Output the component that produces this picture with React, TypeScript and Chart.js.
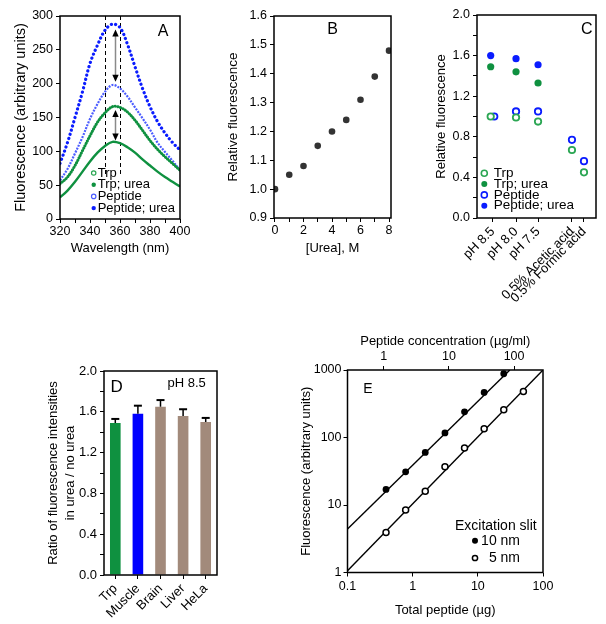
import React, { useEffect, useRef } from "react";
import { Chart, registerables } from "chart.js";

Chart.register(...registerables);

const FONT = "'Liberation Sans', Arial, Helvetica, sans-serif";
Chart.defaults.font.family = FONT;
Chart.defaults.font.size = 12;
Chart.defaults.color = "#000";

// ---------------- Panel A : emission spectra ----------------
const wavelengthNm = [320, 325, 330, 335, 340, 345, 350, 355, 360, 365, 370, 375, 380, 385, 390, 395, 400];
const trpA = [32, 42, 55, 70, 85, 98, 108, 114, 112, 106, 98, 88, 79, 70, 62, 55, 48];
const trpUreaA = [52, 62, 79, 101, 123, 143, 157, 166, 165, 158, 146, 131, 116, 103, 92, 82, 72];
const peptideA = [57, 74, 97, 121, 148, 170, 188, 198, 193, 181, 165, 149, 132, 113, 99, 86, 72];
const peptideUreaA = [82, 113, 150, 188, 230, 257, 279, 288, 283, 258, 225, 193, 166, 144, 127, 113, 102];
const aXTicks = [320, 330, 340, 350, 360, 370, 380, 390, 400];
const aXLabeled = [320, 340, 360, 380, 400];
const aYTicks = [0, 50, 100, 150, 200, 250, 300];
const aGuideNm = [350, 360];
const aGuideSpan = [65, 300];
const aArrowNm = 357;
const aArrowPeptide = [280, 203];
const aArrowTrp = [161, 116];

// ---------------- Panel B : urea titration ----------------
const ureaM = [0, 1, 2, 3, 4, 5, 6, 7, 8];
const relFluorB = [1.0, 1.05, 1.08, 1.15, 1.2, 1.24, 1.31, 1.39, 1.48];
const bXTicks = [0, 1, 2, 3, 4, 5, 6, 7, 8];
const bXLabeled = [0, 2, 4, 6, 8];
const bYTicks = [0.9, 1.0, 1.1, 1.2, 1.3, 1.4, 1.5, 1.6];

// ---------------- Panel C : conditions ----------------
const conditionsC = ["pH 8.5", "pH 8.0", "pH 7.5", "0.5% Acetic acid", "0.5% Formic acid"];
const conditionPosC = [1.32, 3.28, 5.13, 7.98, 8.99];
const xTrpC = [1.15, 3.28, 5.13, 7.98, 8.99];
const xPeptideC = [1.45, 3.28, 5.13, 7.98, 8.99];
const trpC = [1.0, 0.99, 0.95, 0.67, 0.45];
const trpUreaC = [1.49, 1.44, 1.33];
const peptideC = [1.0, 1.05, 1.05, 0.77, 0.56];
const peptideUreaC = [1.6, 1.57, 1.51];
const cYTicks = [0, 0.2, 0.4, 0.6, 0.8, 1.0, 1.2, 1.4, 1.6, 1.8, 2.0];
const cYLabeled = [0, 0.4, 0.8, 1.2, 1.6, 2.0];

// ---------------- Panel D : ratio bars ----------------
const tissuesD = ["Trp", "Muscle", "Brain", "Liver", "HeLa"];
const ratioD = [1.49, 1.58, 1.65, 1.56, 1.5];
const errD = [0.04, 0.08, 0.065, 0.065, 0.04];

// ---------------- Panel E : linearity ----------------
const eTotalUg = [0.39, 0.78, 1.56, 3.13, 6.25, 12.5, 25, 50];
const e10nm = [17, 31, 60, 117, 240, 465, 880];
const e5nm = [3.9, 8.4, 16, 37, 70, 135, 258, 480];
const eFit10X = [0.1, 31];
const eFit10Y = [4.4, 1000];
const eFit5X = [0.1, 100];
const eFit5Y = [1.06, 1000];
const sampleVolumeMl = 0.36;
const eXTicks = [0.1, 1, 10, 100];
const eTopTicks = [1, 10, 100];
const eYTicks = [1, 10, 100, 1000];

// ---------------- styles ----------------
const GREEN = "#0f9140";
const GREEN_LIGHT = "#2ba653";
const BLUE = "#0a1cff";
const BLUE_LIGHT = "#4b5cff";
const TAN = "#a28a7b";
const colorsD = [GREEN, "#0000ff", TAN, TAN, TAN];

const near = (arr: number[], v: number) => arr.some((a) => Math.abs(a - v) < 1e-6);
const setTicks = (vals: number[]) => (s: any) => {
  s.ticks = vals.map((v) => ({ value: v }));
};
const fixW = (w: number) => (s: any) => {
  s.width = w;
  s.paddingTop = 0;
  s.paddingBottom = 0;
  s.paddingLeft = 0;
  s.paddingRight = 0;
};
const fixH = (h: number) => (s: any) => {
  s.height = h;
  s.paddingLeft = 0;
  s.paddingRight = 0;
  s.paddingTop = 0;
  s.paddingBottom = 0;
};
const axisGrid = (extra: any = {}) => ({
  drawOnChartArea: false,
  drawTicks: true,
  tickLength: 4,
  color: "#000",
  lineWidth: 1,
  ...extra,
});
const titleOpt = (text: any, size = 13, extra: any = {}) => ({
  display: true,
  text,
  color: "#000",
  font: { size, family: FONT },
  padding: 0,
  ...extra,
});

const framePlugin = {
  id: "frame",
  afterDraw(chart: any) {
    const { ctx, chartArea } = chart;
    const { left, top, right, bottom } = chartArea;
    ctx.save();
    ctx.strokeStyle = "#000";
    ctx.lineWidth = 1.5;
    ctx.strokeRect(left, top, right - left, bottom - top);
    ctx.restore();
  },
};

function drawText(ctx: CanvasRenderingContext2D, s: string, x: number, y: number, size: number, align: CanvasTextAlign = "center") {
  ctx.save();
  ctx.fillStyle = "#000";
  ctx.font = `${size}px ${FONT}`;
  ctx.textAlign = align;
  ctx.textBaseline = "middle";
  ctx.fillText(s, x, y);
  ctx.restore();
}

function drawMarker(ctx: CanvasRenderingContext2D, x: number, y: number, r: number, color: string, filled: boolean, lw = 1.5) {
  ctx.save();
  ctx.beginPath();
  ctx.arc(x, y, r, 0, Math.PI * 2);
  if (filled) {
    ctx.fillStyle = color;
    ctx.fill();
  } else {
    ctx.fillStyle = "#fff";
    ctx.fill();
    ctx.lineWidth = lw;
    ctx.strokeStyle = color;
    ctx.stroke();
  }
  ctx.restore();
}

function drawDoubleArrow(ctx: CanvasRenderingContext2D, x: number, yTop: number, yBot: number) {
  ctx.save();
  ctx.strokeStyle = "#8a8a8a";
  ctx.lineWidth = 1.5;
  ctx.beginPath();
  ctx.moveTo(x, yTop + 5);
  ctx.lineTo(x, yBot - 5);
  ctx.stroke();
  ctx.fillStyle = "#000";
  ctx.beginPath();
  ctx.moveTo(x, yTop);
  ctx.lineTo(x - 3.2, yTop + 7);
  ctx.lineTo(x + 3.2, yTop + 7);
  ctx.closePath();
  ctx.fill();
  ctx.beginPath();
  ctx.moveTo(x, yBot);
  ctx.lineTo(x - 3.2, yBot - 7);
  ctx.lineTo(x + 3.2, yBot - 7);
  ctx.closePath();
  ctx.fill();
  ctx.restore();
}

// ---------------- builders ----------------
const baseOptions = (padding: any) => ({
  animation: false,
  responsive: false,
  maintainAspectRatio: false,
  events: [],
  layout: { padding },
  plugins: { legend: { display: false }, tooltip: { enabled: false } },
});

const buildA = () => ({
  type: "line",
  data: {
    datasets: [
      {
        label: "Trp",
        data: wavelengthNm.map((x, i) => ({ x, y: trpA[i] })),
        borderColor: GREEN,
        borderWidth: 2.4,
        pointRadius: 0,
        tension: 0.35,
        mk: { color: GREEN_LIGHT, filled: false },
      },
      {
        label: "Trp; urea",
        data: wavelengthNm.map((x, i) => ({ x, y: trpUreaA[i] })),
        borderColor: GREEN,
        borderWidth: 3,
        borderDash: [0.1, 2.6],
        borderCapStyle: "round",
        pointRadius: 0,
        tension: 0.35,
        mk: { color: GREEN, filled: true },
      },
      {
        label: "Peptide",
        data: wavelengthNm.map((x, i) => ({ x, y: peptideA[i] })),
        borderColor: BLUE_LIGHT,
        borderWidth: 2.2,
        borderDash: [2, 1.2],
        pointRadius: 0,
        tension: 0.35,
        mk: { color: BLUE_LIGHT, filled: false },
      },
      {
        label: "Peptide; urea",
        data: wavelengthNm.map((x, i) => ({ x, y: peptideUreaA[i] })),
        borderColor: BLUE,
        borderWidth: 3.2,
        borderDash: [0.1, 4.3],
        borderCapStyle: "round",
        pointRadius: 0,
        tension: 0.35,
        mk: { color: BLUE, filled: true },
      },
    ],
  },
  options: {
    ...baseOptions({ left: 12, right: 20, top: 16, bottom: 34 }),
    scales: {
      x: {
        type: "linear",
        min: 320,
        max: 400,
        afterBuildTicks: setTicks(aXTicks),
        ticks: { callback: (v: number) => (near(aXLabeled, v) ? String(v) : ""), padding: 1, maxRotation: 0, autoSkip: false, font: { size: 12.5 } },
        grid: axisGrid(),
        border: { display: false },
        title: titleOpt("Wavelength (nm)"),
        afterFit: fixH(37),
      },
      y: {
        type: "linear",
        min: 0,
        max: 300,
        afterBuildTicks: setTicks(aYTicks),
        ticks: { padding: 3, font: { size: 12.5 } },
        grid: axisGrid(),
        border: { display: false },
        title: titleOpt("Fluorescence (arbitrary units)", 14.5),
        afterFit: fixW(48),
      },
    },
  },
  plugins: [
    framePlugin,
    {
      id: "annotA",
      beforeDatasetsDraw(chart: any) {
        const { ctx, scales } = chart;
        const { x, y } = scales;
        ctx.save();
        ctx.setLineDash([4, 3]);
        ctx.lineWidth = 1;
        ctx.strokeStyle = "#000";
        aGuideNm.forEach((nm) => {
          const px = Math.round(x.getPixelForValue(nm)) + 0.5;
          ctx.beginPath();
          ctx.moveTo(px, y.getPixelForValue(aGuideSpan[1]));
          ctx.lineTo(px, y.getPixelForValue(aGuideSpan[0]));
          ctx.stroke();
        });
        ctx.restore();
      },
      afterDatasetsDraw(chart: any) {
        const { ctx, scales, chartArea, data } = chart;
        const { x, y } = scales;
        const ax = x.getPixelForValue(aArrowNm);
        drawDoubleArrow(ctx, ax, y.getPixelForValue(aArrowPeptide[0]), y.getPixelForValue(aArrowPeptide[1]));
        drawDoubleArrow(ctx, ax, y.getPixelForValue(aArrowTrp[0]), y.getPixelForValue(aArrowTrp[1]));
        const mx = chartArea.left + 33.7;
        data.datasets.forEach((ds: any, i: number) => {
          const yy = chartArea.bottom - 46 + i * 11.7;
          drawMarker(ctx, mx, yy, 2.2, ds.mk.color, ds.mk.filled, 1.2);
          drawText(ctx, ds.label, mx + 4, yy, 13, "left");
        });
        drawText(ctx, "A", chartArea.right - 17, chartArea.top + 16, 16);
      },
    },
  ],
});

const buildB = () => ({
  type: "scatter",
  data: {
    datasets: [
      {
        label: "Relative fluorescence",
        data: ureaM.map((x, i) => ({ x, y: relFluorB[i] })),
        pointRadius: 3.3,
        backgroundColor: "#333",
        borderColor: "#333",
        borderWidth: 0,
      },
    ],
  },
  options: {
    ...baseOptions({ left: 25, right: 15, top: 16, bottom: 34 }),
    scales: {
      x: {
        type: "linear",
        min: -0.07,
        max: 8.14,
        afterBuildTicks: setTicks(bXTicks),
        ticks: { callback: (v: number) => (near(bXLabeled, v) ? String(v) : ""), padding: 1, maxRotation: 0, autoSkip: false, font: { size: 12.5 } },
        grid: axisGrid(),
        border: { display: false },
        title: titleOpt("[Urea], M"),
        afterFit: fixH(38),
      },
      y: {
        type: "linear",
        min: 0.9,
        max: 1.6,
        afterBuildTicks: setTicks(bYTicks),
        ticks: { callback: (v: number) => v.toFixed(1), padding: 3, font: { size: 12.5 } },
        grid: axisGrid(),
        border: { display: false },
        title: titleOpt("Relative fluorescence", 13.5),
        afterFit: fixW(49),
      },
    },
  },
  plugins: [
    framePlugin,
    {
      id: "annotB",
      afterDraw(chart: any) {
        const { ctx, chartArea } = chart;
        drawText(ctx, "B", (chartArea.left + chartArea.right) / 2, chartArea.top + 14, 16);
      },
    },
  ],
});

const buildC = () => ({
  type: "scatter",
  data: {
    datasets: [
      {
        label: "Trp",
        data: xTrpC.map((x, i) => ({ x, y: trpC[i] })),
        pointRadius: 3.2,
        borderWidth: 1.8,
        backgroundColor: "#fff",
        borderColor: GREEN_LIGHT,
        mk: { color: GREEN_LIGHT, filled: false },
      },
      {
        label: "Trp; urea",
        data: trpUreaC.map((y, i) => ({ x: xTrpC[i], y })),
        pointRadius: 3.6,
        borderWidth: 0,
        backgroundColor: GREEN,
        borderColor: GREEN,
        mk: { color: GREEN, filled: true },
      },
      {
        label: "Peptide",
        data: xPeptideC.map((x, i) => ({ x, y: peptideC[i] })),
        pointRadius: 3.2,
        borderWidth: 1.8,
        backgroundColor: "#fff",
        borderColor: BLUE,
        mk: { color: BLUE, filled: false },
      },
      {
        label: "Peptide; urea",
        data: peptideUreaC.map((y, i) => ({ x: xTrpC[i], y })),
        pointRadius: 3.6,
        borderWidth: 0,
        backgroundColor: BLUE,
        borderColor: BLUE,
        mk: { color: BLUE, filled: true },
      },
    ],
  },
  options: {
    ...baseOptions({ left: 34, right: 10, top: 15, bottom: 0 }),
    scales: {
      x: {
        type: "linear",
        min: 0,
        max: 10,
        afterBuildTicks: setTicks(conditionPosC),
        ticks: {
          callback: (_v: number, i: number) => conditionsC[i],
          minRotation: 45,
          maxRotation: 45,
          autoSkip: false,
          padding: 2,
          font: { size: 13 },
        },
        grid: axisGrid(),
        border: { display: false },
        afterFit: fixH(87),
      },
      y: {
        type: "linear",
        min: 0,
        max: 2,
        afterBuildTicks: setTicks(cYTicks),
        ticks: { callback: (v: number) => (near(cYLabeled, v) ? v.toFixed(1) : ""), padding: 3, font: { size: 12.5 } },
        grid: axisGrid(),
        border: { display: false },
        title: titleOpt("Relative fluorescence"),
        afterFit: fixW(43),
      },
    },
  },
  plugins: [
    framePlugin,
    {
      id: "annotC",
      afterDraw(chart: any) {
        const { ctx, chartArea, data } = chart;
        const mx = chartArea.left + 7.3;
        data.datasets.forEach((ds: any, i: number) => {
          const yy = chartArea.bottom - 44.7 + i * 10.8;
          drawMarker(ctx, mx, yy, 3, ds.mk.color, ds.mk.filled, 1.6);
          drawText(ctx, ds.label, mx + 9.5, yy, 13.5, "left");
        });
        drawText(ctx, "C", chartArea.right - 9.3, chartArea.top + 15, 16);
      },
    },
  ],
});

const buildD = () => ({
  type: "bar",
  data: {
    labels: tissuesD,
    datasets: [
      {
        label: "Ratio",
        data: ratioD,
        backgroundColor: colorsD,
        borderWidth: 0,
        barPercentage: 0.47,
        categoryPercentage: 1,
      },
    ],
  },
  options: {
    ...baseOptions({ left: 44, right: 23, top: 71, bottom: 0 }),
    scales: {
      x: {
        type: "category",
        offset: true,
        ticks: { minRotation: 45, maxRotation: 45, autoSkip: false, padding: 2, font: { size: 13 } },
        grid: axisGrid({ offset: false }),
        border: { display: false },
        afterFit: fixH(49),
      },
      y: {
        type: "linear",
        min: 0,
        max: 2,
        afterBuildTicks: setTicks(cYTicks),
        ticks: { callback: (v: number) => (near(cYLabeled, v) ? v.toFixed(1) : ""), padding: 3, font: { size: 13 } },
        grid: axisGrid(),
        border: { display: false },
        title: titleOpt(["Ratio of fluorescence intensities", "in urea / no urea"], 13, {
          font: { size: 13, family: FONT, lineHeight: 1.38 },
        }),
        afterFit: fixW(60),
      },
    },
  },
  plugins: [
    framePlugin,
    {
      id: "annotD",
      afterDatasetsDraw(chart: any) {
        const { ctx, chartArea, scales } = chart;
        const meta = chart.getDatasetMeta(0);
        ctx.save();
        ctx.strokeStyle = "#000";
        meta.data.forEach((bar: any, i: number) => {
          const yTop = scales.y.getPixelForValue(ratioD[i] + errD[i]);
          ctx.lineWidth = 1.5;
          ctx.beginPath();
          ctx.moveTo(bar.x, bar.y);
          ctx.lineTo(bar.x, yTop);
          ctx.stroke();
          ctx.lineWidth = 2;
          ctx.beginPath();
          ctx.moveTo(bar.x - 4, yTop);
          ctx.lineTo(bar.x + 4, yTop);
          ctx.stroke();
        });
        ctx.restore();
        drawText(ctx, "D", chartArea.left + 12.7, chartArea.top + 16, 17);
        drawText(ctx, "pH 8.5", chartArea.left + 82.7, chartArea.top + 12, 13);
      },
    },
  ],
});

const buildE = () => ({
  type: "scatter",
  data: {
    datasets: [
      {
        label: "10 nm",
        data: e10nm.map((y, i) => ({ x: eTotalUg[i], y })),
        pointRadius: 3.4,
        backgroundColor: "#000",
        borderColor: "#000",
        borderWidth: 0,
        order: 1,
        mk: { filled: true },
      },
      {
        label: "5 nm",
        data: e5nm.map((y, i) => ({ x: eTotalUg[i], y })),
        pointRadius: 3,
        backgroundColor: "#fff",
        borderColor: "#000",
        borderWidth: 1.5,
        order: 1,
        mk: { filled: false },
      },
      {
        label: "fit 10 nm",
        data: eFit10X.map((x, i) => ({ x, y: eFit10Y[i] })),
        showLine: true,
        pointRadius: 0,
        borderColor: "#000",
        borderWidth: 1.4,
        order: 2,
      },
      {
        label: "fit 5 nm",
        data: eFit5X.map((x, i) => ({ x, y: eFit5Y[i] })),
        showLine: true,
        pointRadius: 0,
        borderColor: "#000",
        borderWidth: 1.4,
        order: 2,
      },
    ],
  },
  options: {
    ...baseOptions({ left: 19, right: 63, top: 34, bottom: 6.2 }),
    scales: {
      x: {
        type: "logarithmic",
        position: "bottom",
        min: 0.1,
        max: 100,
        afterBuildTicks: setTicks(eXTicks),
        ticks: { callback: (v: number) => String(v), padding: 3, maxRotation: 0, autoSkip: false, font: { size: 12.5 } },
        grid: axisGrid(),
        border: { display: false },
        title: titleOpt("Total peptide (µg)"),
        afterFit: fixH(45.3),
      },
      x2: {
        type: "logarithmic",
        position: "top",
        axis: "x",
        min: 0.1 / sampleVolumeMl,
        max: 100 / sampleVolumeMl,
        afterBuildTicks: setTicks(eTopTicks),
        ticks: { callback: (v: number) => String(v), padding: 2, maxRotation: 0, autoSkip: false, font: { size: 12.5 } },
        grid: axisGrid(),
        border: { display: false },
        title: titleOpt("Peptide concentration (µg/ml)"),
        afterFit: fixH(36),
      },
      y: {
        type: "logarithmic",
        min: 1,
        max: 1000,
        afterBuildTicks: setTicks(eYTicks),
        ticks: { callback: (v: number) => String(v), padding: 2, font: { size: 12.5 } },
        grid: axisGrid(),
        border: { display: false },
        title: titleOpt("Fluorescence (arbitrary units)"),
        afterFit: fixW(48.5),
      },
    },
  },
  plugins: [
    framePlugin,
    {
      id: "annotE",
      afterDraw(chart: any) {
        const { ctx, chartArea, data } = chart;
        drawText(ctx, "E", chartArea.left + 20.5, chartArea.top + 19, 14);
        drawText(ctx, "Excitation slit", chartArea.left + 107.5, chartArea.bottom - 46.5, 14, "left");
        data.datasets.slice(0, 2).forEach((ds: any, i: number) => {
          const yy = chartArea.bottom - 31.8 + i * 17.3;
          drawMarker(ctx, chartArea.left + 127.5, yy, ds.mk.filled ? 3 : 2.6, "#000", ds.mk.filled, 1.5);
          drawText(ctx, ds.label, chartArea.left + 172.5, yy, 14, "right");
        });
      },
    },
  ],
});

function ChartPanel({ left, top, width, height, build }: { left: number; top: number; width: number; height: number; build: () => any }) {
  const ref = useRef<HTMLCanvasElement>(null);
  useEffect(() => {
    const chart = new Chart(ref.current as HTMLCanvasElement, build());
    return () => chart.destroy();
  }, []);
  return (
    <canvas
      ref={ref}
      width={width}
      height={height}
      style={{ position: "absolute", left, top, width, height, display: "block" }}
    />
  );
}

export default function App() {
  return (
    <div style={{ position: "absolute", left: 0, top: 0, width: 606, height: 624, background: "#fff", overflow: "hidden" }}>
      <ChartPanel left={0} top={0} width={200} height={290} build={buildA} />
      <ChartPanel left={200} top={0} width={206} height={290} build={buildB} />
      <ChartPanel left={400} top={0} width={206} height={305} build={buildC} />
      <ChartPanel left={0} top={300} width={240} height={324} build={buildD} />
      <ChartPanel left={280} top={300} width={326} height={324} build={buildE} />
    </div>
  );
}
